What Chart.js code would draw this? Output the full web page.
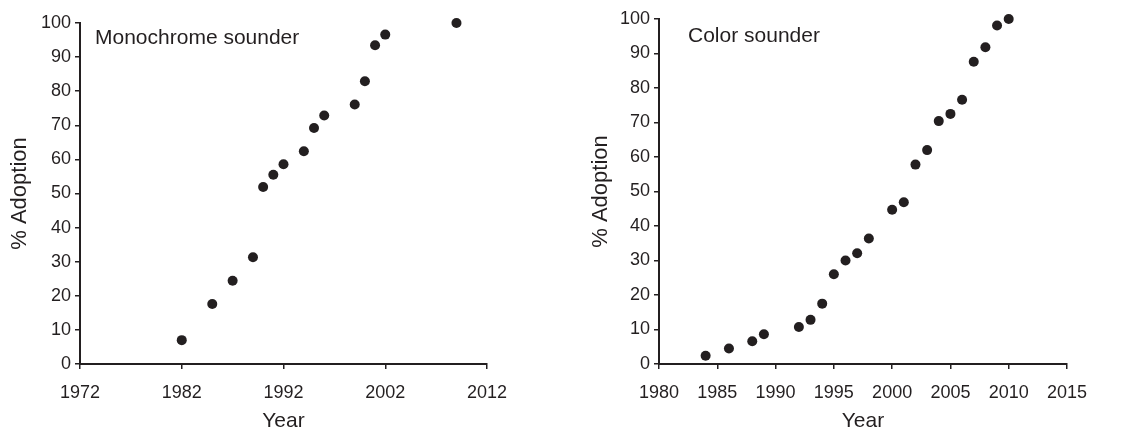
<!DOCTYPE html>
<html>
<head>
<meta charset="utf-8">
<script src="https://cdn.jsdelivr.net/npm/chart.js@4/dist/chart.umd.min.js"></script>
<style>
  html, body { margin: 0; padding: 0; background: #fff; overflow: hidden; }
  #left { position: absolute; left: 0; top: 0; }
  #right { position: absolute; left: 570px; top: 0; }
</style>
</head>
<body>
<canvas id="left" width="570" height="432"></canvas>
<canvas id="right" width="573" height="432"></canvas>
<script>
// Monochrome sounder adoption
const monoYears = [1982, 1985, 1987, 1989, 1990, 1991, 1992, 1994, 1995, 1996, 1999, 2000, 2001, 2002, 2009];
const monoAdoption = [7.0, 17.6, 24.4, 31.3, 51.9, 55.5, 58.6, 62.4, 69.2, 72.9, 76.1, 82.9, 93.5, 96.6, 100];

// Color sounder adoption
const colorYears = [1984, 1986, 1988, 1989, 1992, 1993, 1994, 1995, 1996, 1997, 1998, 2000, 2001, 2002, 2003, 2004, 2005, 2006, 2007, 2008, 2009, 2010];
const colorAdoption = [2.4, 4.5, 6.6, 8.6, 10.7, 12.8, 17.5, 26.0, 30.0, 32.1, 36.4, 44.7, 46.9, 57.8, 62.0, 70.4, 72.5, 76.6, 87.6, 91.8, 98.1, 100];

const monoXTicks = [1972, 2012, 10];
const colorXTicks = [1980, 2015, 5];
const yTicks = [0, 100, 10];

const ink = '#231f20';
Chart.defaults.font.family = '"Liberation Sans", Arial, Helvetica, sans-serif';
Chart.defaults.color = ink;

const panelLabel = {
  id: 'panelLabel',
  afterDraw(chart, args, opts) {
    const {ctx, chartArea} = chart;
    ctx.save();
    ctx.font = '21px "Liberation Sans", Arial, sans-serif';
    ctx.fillStyle = ink;
    ctx.textBaseline = 'alphabetic';
    ctx.fillText(opts.text, chartArea.left + opts.dx, chartArea.top + opts.dy);
    ctx.restore();
  }
};

function makeChart(id, xs, ys, xt, cfg) {
  const points = xs.map((x, i) => ({x: x, y: ys[i]}));
  const axisLine = {display: true, color: ink, width: 2};
  const tickGrid = {display: true, drawOnChartArea: false, drawTicks: true, tickLength: 5, color: ink, lineWidth: 1.5};
  return new Chart(document.getElementById(id), {
    type: 'scatter',
    data: {datasets: [{data: points, backgroundColor: ink, borderWidth: 0, pointRadius: 5, pointHoverRadius: 5, clip: false}]},
    options: {
      responsive: false,
      animation: false,
      layout: {padding: {top: cfg.top, right: cfg.right, left: 0, bottom: 0}},
      plugins: {
        legend: {display: false},
        tooltip: {enabled: false},
        panelLabel: {text: cfg.label, dx: cfg.dx, dy: cfg.dy}
      },
      scales: {
        x: {
          type: 'linear', min: xt[0], max: xt[1],
          ticks: {stepSize: xt[2], font: {size: 18}, padding: 13, color: ink, callback: v => String(v)},
          grid: tickGrid, border: axisLine,
          title: {display: true, text: 'Year', font: {size: 21, lineHeight: 1}, padding: {top: 0, bottom: 0}, color: ink},
          afterFit: s => { s.height = 68; }
        },
        y: {
          type: 'linear', min: yTicks[0], max: yTicks[1],
          ticks: {stepSize: yTicks[2], font: {size: 18}, padding: 4, color: ink},
          grid: tickGrid, border: axisLine,
          title: {display: true, text: '% Adoption', font: {size: 22, lineHeight: 1}, padding: {top: cfg.titlePad, bottom: 0}, color: ink},
          afterFit: s => { s.width = cfg.axisX; }
        }
      }
    },
    plugins: [panelLabel]
  });
}

makeChart('left', monoYears, monoAdoption, monoXTicks,
  {top: 23, right: 83, axisX: 80, titlePad: 9, label: 'Monochrome sounder', dx: 15, dy: 21});
makeChart('right', colorYears, colorAdoption, colorXTicks,
  {top: 19, right: 76, axisX: 89, titlePad: 20, label: 'Color sounder', dx: 29, dy: 23});
</script>
</body>
</html>
